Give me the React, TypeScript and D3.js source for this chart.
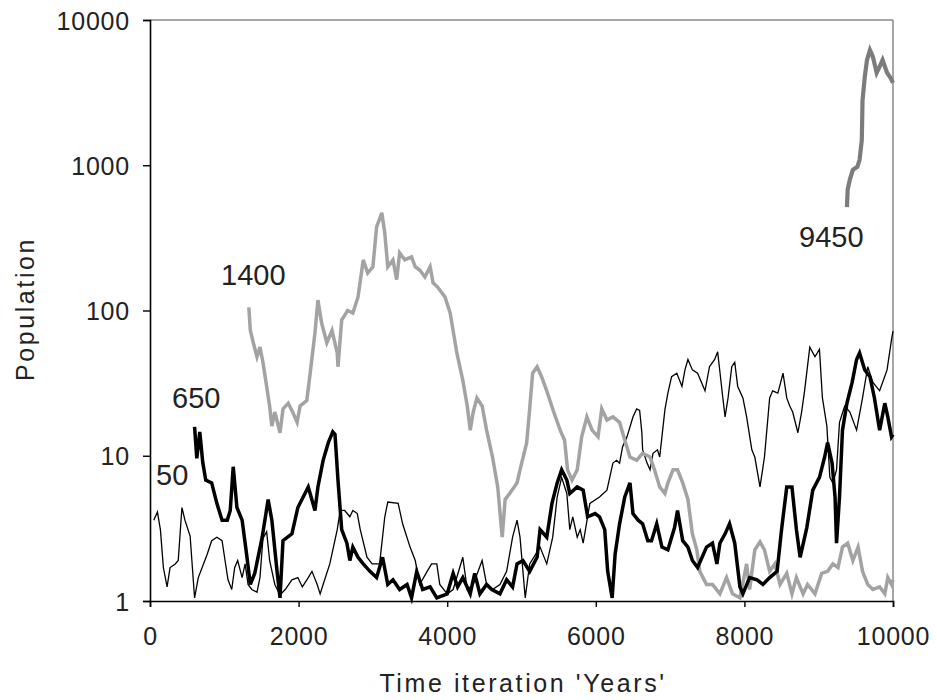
import React, { useEffect, useRef } from 'react';
import * as d3 from 'd3';

// [year, population]
const run50: [number, number][] = [
  [50, 3.6], [100, 4.1], [140, 3.1], [180, 1.7], [230, 1.25], [270, 1.7], [340, 1.8], [380, 1.9],
  [430, 4.4], [470, 3.6], [540, 2.8], [600, 1.05], [650, 1.45], [770, 2.1], [830, 2.6], [900, 2.75],
  [970, 2.6], [1010, 1.9], [1050, 1.4], [1100, 1.2], [1140, 1.7], [1180, 1.9], [1240, 1.45], [1280, 1.8],
  [1320, 1.3], [1370, 1.2], [1440, 1.15], [1480, 1.45], [1520, 2.7], [1570, 3.0], [1610, 1.9], [1680, 1.3],
  [1750, 1.1], [1820, 1.2], [1910, 1.4], [1990, 1.45], [2050, 1.25], [2130, 1.45], [2180, 1.6], [2250, 1.3],
  [2290, 1.12], [2330, 1.3], [2420, 1.8], [2520, 3.1], [2560, 4.2], [2620, 4.2], [2690, 3.8], [2730, 4.2],
  [2790, 4.0], [2830, 3.1], [2920, 2.0], [2990, 1.8], [3090, 1.8], [3160, 3.8], [3200, 4.8], [3340, 4.7],
  [3400, 3.4], [3500, 2.35], [3570, 1.9], [3630, 1.3], [3730, 1.6], [3790, 1.8], [3860, 1.8], [3900, 1.3],
  [4000, 1.12], [4080, 1.2], [4210, 2.0], [4270, 1.2], [4350, 1.3], [4470, 1.9], [4530, 1.3], [4610, 1.2],
  [4710, 1.3], [4800, 1.6], [4880, 2.75], [4940, 3.6], [4980, 2.75], [5050, 1.05], [5110, 1.8], [5250, 2.35],
  [5340, 1.8], [5420, 2.75], [5480, 5.2], [5540, 7.1], [5610, 5.5], [5650, 3.1], [5690, 3.8], [5750, 2.75],
  [5790, 3.1], [5830, 2.5], [5920, 4.7], [6050, 5.2], [6150, 5.8], [6230, 8.9], [6280, 9.3], [6320, 8.9],
  [6360, 11.5], [6420, 13.5], [6500, 18.5], [6550, 21], [6590, 20.5], [6620, 14.4], [6630, 11], [6690, 8.9],
  [6730, 8.0], [6770, 10.4], [6830, 11], [6860, 9.8], [6890, 13.5], [6930, 20.7], [6970, 27], [7020, 35],
  [7090, 37], [7160, 30], [7200, 39], [7240, 46], [7300, 39], [7370, 37], [7470, 28], [7530, 41],
  [7600, 46], [7640, 52], [7710, 25], [7740, 18.5], [7780, 25], [7830, 41], [7870, 44], [7910, 30],
  [7980, 25], [8030, 18.5], [8100, 11], [8140, 9.8], [8210, 6.1], [8270, 9.8], [8340, 25], [8380, 28],
  [8450, 27], [8520, 37], [8570, 25], [8610, 22], [8650, 20], [8720, 14.4], [8770, 20], [8810, 28],
  [8880, 56], [8950, 48], [9010, 54], [9050, 25], [9110, 16], [9150, 7.1], [9190, 6.5], [9240, 8],
  [9280, 17], [9350, 22], [9420, 20], [9510, 15], [9590, 25], [9660, 41], [9730, 32], [9820, 28],
  [9920, 39], [9980, 63], [10000, 72],
];

const run650: [number, number][] = [
  [600, 15.8], [630, 9.6], [670, 14.6], [710, 9.0], [750, 6.8], [830, 6.5], [900, 4.7], [970, 3.6],
  [1040, 3.6], [1080, 4.2], [1120, 8.4], [1140, 6.5], [1170, 4.4], [1240, 3.6], [1300, 2.1], [1350, 1.3],
  [1410, 1.55], [1510, 2.75], [1590, 5.0], [1640, 3.6], [1710, 1.6], [1750, 1.05], [1790, 2.6], [1910, 2.9],
  [1990, 4.4], [2130, 6.1], [2220, 4.2], [2260, 6.1], [2330, 9.3], [2400, 12.3], [2460, 14.6], [2490, 14],
  [2530, 6.8], [2580, 3.1], [2650, 2.5], [2690, 1.9], [2730, 2.35], [2800, 2.0], [2870, 1.8], [2960, 1.6],
  [3050, 1.45], [3130, 2.0], [3200, 1.3], [3270, 1.4], [3360, 1.2], [3460, 1.3], [3520, 1.05], [3590, 1.6],
  [3670, 1.2], [3770, 1.25], [3860, 1.05], [4000, 1.12], [4080, 1.55], [4140, 1.25], [4210, 1.45], [4310, 1.12],
  [4370, 1.55], [4440, 1.12], [4530, 1.3], [4600, 1.2], [4710, 1.12], [4800, 1.4], [4880, 1.25], [4940, 1.8],
  [5020, 1.9], [5110, 1.6], [5210, 2.0], [5250, 3.1], [5340, 2.75], [5410, 4.7], [5480, 6.5], [5540, 8.0],
  [5610, 6.8], [5650, 5.5], [5750, 6.1], [5830, 5.8], [5890, 3.8], [5990, 4.0], [6050, 3.8], [6120, 3.1],
  [6160, 1.6], [6220, 1.05], [6260, 2.1], [6320, 3.4], [6390, 5.2], [6460, 6.5], [6500, 4.0], [6570, 3.6],
  [6630, 3.4], [6700, 2.6], [6750, 2.6], [6820, 3.4], [6890, 2.35], [6970, 2.25], [7060, 3.2], [7100, 4.2],
  [7170, 2.6], [7240, 2.35], [7300, 1.9], [7370, 1.7], [7490, 2.35], [7570, 2.5], [7630, 1.8], [7670, 2.5],
  [7740, 2.9], [7800, 3.4], [7870, 2.5], [7940, 1.25], [7980, 1.12], [8070, 1.45], [8170, 1.4], [8250, 1.3],
  [8340, 1.45], [8440, 1.6], [8500, 3.1], [8570, 6.1], [8640, 6.1], [8700, 3.1], [8750, 2.0], [8840, 3.2],
  [8920, 5.8], [9010, 7.1], [9080, 9.8], [9120, 12.3], [9180, 8.9], [9220, 5.2], [9240, 2.5], [9280, 5.2],
  [9320, 15], [9380, 23], [9450, 32], [9510, 46], [9550, 51], [9620, 39], [9690, 35], [9750, 25],
  [9820, 15], [9890, 23], [9930, 18.5], [9980, 13.5], [10000, 14],
];

const run1400: [number, number][] = [
  [1330, 105], [1350, 73], [1390, 60], [1440, 48], [1480, 56], [1520, 44], [1570, 30], [1610, 22],
  [1640, 16], [1680, 20], [1750, 14.4], [1790, 21], [1860, 23], [1920, 20], [1980, 17], [2020, 22],
  [2110, 24], [2150, 35], [2220, 70], [2260, 118], [2310, 82], [2380, 60], [2450, 73], [2520, 51],
  [2530, 41], [2580, 86], [2660, 100], [2730, 96], [2800, 124], [2870, 223], [2930, 181], [3000, 200],
  [3050, 376], [3120, 470], [3160, 342], [3200, 200], [3270, 223], [3320, 163], [3360, 249], [3430, 223],
  [3520, 234], [3570, 200], [3630, 190], [3700, 170], [3770, 200], [3810, 155], [3870, 145], [3970, 124],
  [4040, 96], [4130, 51], [4210, 33], [4270, 22], [4310, 15], [4350, 20], [4400, 25], [4470, 22],
  [4530, 15], [4610, 9.8], [4680, 6.1], [4740, 2.75], [4780, 5.0], [4840, 5.5], [4940, 6.5], [4980, 8.0],
  [5070, 12.3], [5110, 21], [5150, 37], [5210, 41], [5270, 35], [5340, 28], [5420, 21], [5520, 15],
  [5580, 12.8], [5620, 8.0], [5680, 6.8], [5750, 8.0], [5810, 13.5], [5880, 18.5], [5950, 15], [6030, 13.5],
  [6080, 21], [6150, 17.6], [6230, 18.5], [6320, 17], [6390, 12.8], [6460, 9.8], [6550, 9.3], [6630, 10.4],
  [6730, 9.8], [6790, 8.0], [6860, 6.1], [6930, 5.5], [6970, 6.5], [7040, 8.0], [7100, 8.0], [7170, 6.5],
  [7240, 5.0], [7300, 2.9], [7360, 2.25], [7400, 1.6], [7490, 1.3], [7570, 1.3], [7670, 1.12], [7760, 1.45],
  [7840, 1.12], [7940, 1.05], [8030, 1.8], [8070, 1.2], [8140, 2.25], [8210, 2.55], [8270, 2.25], [8340, 1.6],
  [8410, 1.8], [8480, 1.3], [8570, 1.55], [8640, 1.12], [8700, 1.45], [8790, 1.12], [8850, 1.3], [8950, 1.12],
  [9040, 1.55], [9120, 1.6], [9190, 1.8], [9260, 1.7], [9320, 2.35], [9390, 2.5], [9460, 1.9], [9530, 2.35],
  [9590, 1.6], [9660, 1.3], [9730, 1.2], [9820, 1.25], [9890, 1.12], [9930, 1.45], [9980, 1.3], [10000, 1.4],
];

const run9450: [number, number][] = [
  [9380, 515], [9390, 680], [9420, 800], [9460, 930], [9520, 975], [9550, 1090], [9580, 1490], [9590, 2800],
  [9620, 4050], [9650, 5300], [9690, 6200], [9730, 5570], [9780, 4330], [9820, 4770], [9860, 5300], [9920, 4330],
  [9960, 4050], [10000, 3700],
];

const yTicks = [1, 10, 100, 1000, 10000];
const xTicks = [0, 2000, 4000, 6000, 8000, 10000];

const series = [
  { name: '50', data: run50, color: '#000000', width: 1.3, label: [156, 485] },
  { name: '1400', data: run1400, color: '#a3a3a3', width: 3.5, label: [221, 285] },
  { name: '650', data: run650, color: '#000000', width: 3.5, label: [172, 408] },
  { name: '9450', data: run9450, color: '#7c7c7c', width: 4.2, label: [799, 247] },
];

export default function App() {
  const svgRef = useRef<SVGSVGElement>(null);
  const width = 937;
  const height = 700;

  useEffect(() => {
    const svg = d3.select(svgRef.current);
    svg.selectAll('*').remove();

    const left = 150, right = 893, top = 20, bottom = 601;

    const x = d3.scaleLinear().domain([0, 10000]).range([left, right]);
    const y = d3.scaleLog().domain([1, 10000]).range([bottom, top]).clamp(true);

    const font = "'Liberation Sans', Arial, sans-serif";

    // frame: grey top and right
    svg.append('line').attr('x1', left).attr('x2', right).attr('y1', top).attr('y2', top)
      .attr('stroke', '#8a8a8a').attr('stroke-width', 1.5);
    svg.append('line').attr('x1', right).attr('x2', right).attr('y1', top).attr('y2', bottom)
      .attr('stroke', '#8a8a8a').attr('stroke-width', 1.5);

    const line = d3.line<[number, number]>()
      .x(d => x(d[0]))
      .y(d => y(d[1]));

    series.forEach(s => {
      svg.append('path')
        .datum(s.data)
        .attr('fill', 'none')
        .attr('stroke', s.color)
        .attr('stroke-width', s.width)
        .attr('stroke-linejoin', 'miter')
        .attr('d', line);
    });

    // axes
    const yAxis = svg.append('g')
      .attr('transform', `translate(${left},0)`)
      .call(d3.axisLeft(y).tickValues(yTicks).tickFormat(d3.format('d')).tickSize(7).tickPadding(13));
    const xAxis = svg.append('g')
      .attr('transform', `translate(0,${bottom})`)
      .call(d3.axisBottom(x).tickValues(xTicks).tickFormat(d3.format('d')).tickSize(6).tickPadding(20));

    [yAxis, xAxis].forEach(g => {
      g.select('.domain').attr('stroke', '#000').attr('stroke-width', 1.6);
      g.selectAll('.tick line').attr('stroke', '#000').attr('stroke-width', 1.4);
      g.selectAll('.tick text')
        .attr('fill', '#222')
        .style('font-family', font)
        .style('font-size', '25px')
        .style('letter-spacing', '0.8px');
    });
    yAxis.selectAll('.tick text').attr('dy', '0.36em');

    // titles
    svg.append('text')
      .attr('x', 523).attr('y', 692)
      .attr('text-anchor', 'middle')
      .attr('fill', '#222')
      .style('font-family', font).style('font-size', '25px').style('letter-spacing', '2.6px')
      .text("Time iteration 'Years'");

    svg.append('text')
      .attr('transform', 'translate(34,309) rotate(-90)')
      .attr('text-anchor', 'middle')
      .attr('fill', '#222')
      .style('font-family', font).style('font-size', '25px').style('letter-spacing', '2.6px')
      .text('Population');

    // start-year labels
    series.forEach(s => {
      svg.append('text')
        .attr('x', s.label[0]).attr('y', s.label[1])
        .attr('fill', '#222')
        .style('font-family', font).style('font-size', '29px')
        .text(s.name);
    });
  }, []);

  return (
    <svg
      ref={svgRef}
      width={width}
      height={height}
      style={{ position: 'absolute', left: 0, top: 0, background: '#fff' }}
    />
  );
}
